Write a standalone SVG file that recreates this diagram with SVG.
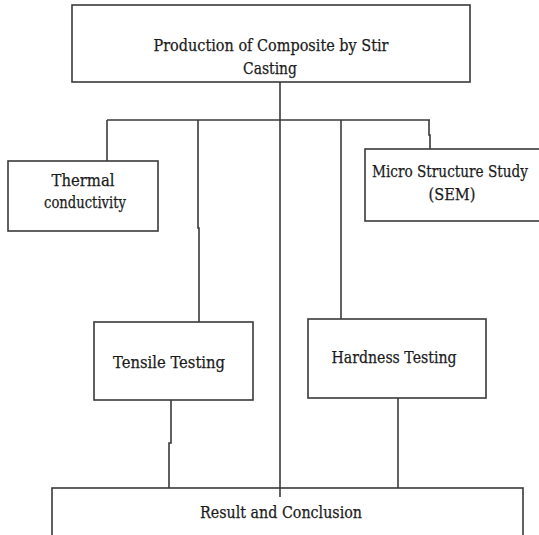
<svg xmlns="http://www.w3.org/2000/svg" width="539" height="535" viewBox="0 0 539 535">
<style>
.box{fill:#fff;stroke:#3a3a3a;stroke-width:1.6}
.ln{fill:none;stroke:#3a3a3a;stroke-width:1.6}
text{font-family:"DejaVu Serif","Liberation Serif",serif;font-size:17.5px;fill:#1a1a1a;stroke:#1a1a1a;stroke-width:0.25;text-anchor:middle}
</style>
<rect width="539" height="535" fill="#fff"/>
<g id="connectors">
<path class="ln" d="M280 82V497"/>
<path class="ln" d="M107 120H430"/>
<path class="ln" d="M107 120V161"/>
<path class="ln" d="M198 120V228H199V322"/>
<path class="ln" d="M341 120V319"/>
<path class="ln" d="M429 120V135H430V149"/>
<path class="ln" d="M171 400V443H169V488"/>
<path class="ln" d="M398 398V489"/>
</g>
<g id="production">
<rect class="box" x="72" y="5" width="398" height="77"/>
<text x="271" y="51" textLength="235" lengthAdjust="spacingAndGlyphs">Production of Composite by Stir</text>
<text x="270" y="74" textLength="54" lengthAdjust="spacingAndGlyphs">Casting</text>
</g>
<g id="thermal">
<rect class="box" x="8" y="161" width="150" height="70"/>
<text x="83" y="186" textLength="63" lengthAdjust="spacingAndGlyphs">Thermal</text>
<text x="85" y="208" textLength="82" lengthAdjust="spacingAndGlyphs">conductivity</text>
</g>
<g id="sem">
<rect class="box" x="365" y="149" width="180" height="72"/>
<text x="450" y="177" textLength="156" lengthAdjust="spacingAndGlyphs">Micro Structure Study</text>
<text x="452" y="200" textLength="47" lengthAdjust="spacingAndGlyphs">(SEM)</text>
</g>
<g id="tensile">
<rect class="box" x="94" y="322" width="159" height="78"/>
<text x="169" y="368" textLength="112" lengthAdjust="spacingAndGlyphs">Tensile Testing</text>
</g>
<g id="hardness">
<rect class="box" x="308" y="319" width="178" height="79"/>
<text x="394" y="363" textLength="125" lengthAdjust="spacingAndGlyphs">Hardness Testing</text>
</g>
<g id="result">
<rect class="box" x="52" y="488" width="471" height="60"/>
<path class="ln" d="M280 488V497"/>
<text x="281" y="518" textLength="162" lengthAdjust="spacingAndGlyphs">Result and Conclusion</text>
</g>
</svg>
